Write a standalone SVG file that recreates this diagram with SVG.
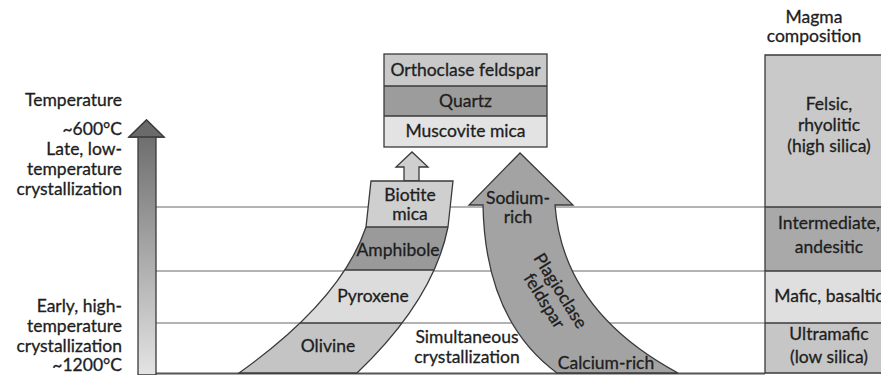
<svg xmlns="http://www.w3.org/2000/svg" width="881" height="375" viewBox="0 0 881 375">
<style>
text{font-family:Lato,"Liberation Sans",sans-serif;font-size:17.5px;fill:#1e1e1e;stroke:#1e1e1e;stroke-width:0.3;}
.m{text-anchor:middle}
.r{text-anchor:end}
.grid{stroke:#9a9a9a;stroke-width:1.5;fill:none}
.ol{stroke:#3a3a3a;stroke-width:1.3}
</style>
<defs>
<linearGradient id="tg" x1="0" y1="0" x2="0" y2="1">
<stop offset="0" stop-color="#666"/>
<stop offset="1" stop-color="#e4e4e4"/>
</linearGradient>
<clipPath id="bandClip">
<path d="M239,373 Q341.5,300 366,227 L371,181 L453,181 L448,227 Q433.5,300 357,373 Z"/>
</clipPath>
</defs>
<rect width="881" height="375" fill="#fff"/>

<g id="connectors">
<line class="grid" x1="155" y1="207" x2="765" y2="207"/>
<line class="grid" x1="155" y1="271" x2="765" y2="271"/>
<line class="grid" x1="155" y1="323" x2="765" y2="323"/>
<line x1="155" y1="373.5" x2="765" y2="373.5" stroke="#555" stroke-width="2"/>
</g>

<g id="temperature-axis">
<path class="ol" d="M138,375 L138,137 L129,137 L146.5,120 L164,137 L156,137 L156,375 Z" fill="url(#tg)"/>
<path d="M129,137 L146.5,120 L164,137 Z" fill="#6a6a6a" stroke="#3a3a3a" stroke-width="1.3"/>
<text class="r" x="122" y="106">Temperature</text>
<text class="r" x="122" y="135">~600°C</text>
<text class="r" x="122" y="155">Late, low-</text>
<text class="r" x="122" y="175">temperature</text>
<text class="r" x="122" y="195">crystallization</text>
<text class="r" x="122" y="312">Early, high-</text>
<text class="r" x="122" y="332">temperature</text>
<text class="r" x="122" y="352">crystallization</text>
<text class="r" x="122" y="371">~1200°C</text>
</g>

<g id="late-minerals">
<rect x="384" y="54" width="163" height="32" fill="#c9c9c9"/>
<rect x="384" y="86" width="163" height="30" fill="#9c9c9c"/>
<rect x="384" y="116" width="163" height="31" fill="#e3e3e3"/>
<rect x="384" y="54" width="163" height="93" fill="none" class="ol"/>
<line class="ol" x1="384" y1="86" x2="547" y2="86"/>
<line class="ol" x1="384" y1="116" x2="547" y2="116"/>
<text class="m" x="465.5" y="76">Orthoclase feldspar</text>
<text class="m" x="465.5" y="107">Quartz</text>
<text class="m" x="465.5" y="137">Muscovite mica</text>
</g>

<g id="up-arrow">
<path class="ol" d="M404,181 L404,167 L396,167 L412,152 L428,167 L419,167 L419,181 Z" fill="#cfcfcf"/>
</g>

<g id="discontinuous-series">
<g clip-path="url(#bandClip)">
<rect x="230" y="175" width="230" height="52" fill="#cfcfcf"/>
<rect x="230" y="227" width="230" height="43" fill="#9a9a9a"/>
<rect x="230" y="270" width="230" height="53" fill="#dcdcdc"/>
<rect x="230" y="323" width="230" height="52" fill="#c4c4c4"/>
<line class="ol" x1="230" y1="227" x2="460" y2="227"/>
<line class="ol" x1="230" y1="270" x2="460" y2="270"/>
<line class="ol" x1="230" y1="323" x2="460" y2="323"/>
</g>
<path class="ol" fill="none" d="M239,373 Q341.5,300 366,227 L371,181 L453,181 L448,227 Q433.5,300 357,373 Z"/>
<text class="m" x="410" y="201">Biotite</text>
<text class="m" x="410" y="220">mica</text>
<text class="m" x="398" y="256">Amphibole</text>
<text class="m" x="373" y="302">Pyroxene</text>
<text class="m" x="328" y="352">Olivine</text>
</g>

<g id="simultaneous">
<text class="m" x="467" y="343">Simultaneous</text>
<text class="m" x="467" y="363">crystallization</text>
</g>

<g id="continuous-series">
<path class="ol" fill="#a3a3a3" d="M483,205 Q485,320 557,373 L678,373 Q563,311 555,205 L573,205 L520,153 L469,205 Z"/>
<text class="m" x="518" y="204">Sodium-</text>
<text class="m" x="518" y="223">rich</text>
<g transform="translate(552,296) rotate(58)">
<text class="m" x="0" y="-4">Plagioclase</text>
<text class="m" x="0" y="15">feldspar</text>
</g>
<text class="m" x="606" y="369">Calcium-rich</text>
</g>

<g id="magma-composition">
<text class="m" x="814" y="23">Magma</text>
<text class="m" x="814" y="42">composition</text>
<rect x="765" y="55" width="130" height="152" fill="#c9c9c9"/>
<rect x="765" y="207" width="130" height="64" fill="#a9a9a9"/>
<rect x="765" y="271" width="130" height="52" fill="#dfdfdf"/>
<rect x="765" y="323" width="130" height="50" fill="#c6c6c6"/>
<path class="ol" fill="none" d="M895,55 L765,55 L765,373 L895,373"/>
<line class="ol" x1="765" y1="207" x2="895" y2="207"/>
<line class="ol" x1="765" y1="271" x2="895" y2="271"/>
<line class="ol" x1="765" y1="323" x2="895" y2="323"/>
<text class="m" x="829" y="110">Felsic,</text>
<text class="m" x="829" y="131">rhyolitic</text>
<text class="m" x="829" y="152">(high silica)</text>
<text class="m" x="829" y="229">Intermediate,</text>
<text class="m" x="829" y="253">andesitic</text>
<text class="m" x="829" y="302">Mafic, basaltic</text>
<text class="m" x="829" y="340">Ultramafic</text>
<text class="m" x="829" y="363">(low silica)</text>
</g>
</svg>
